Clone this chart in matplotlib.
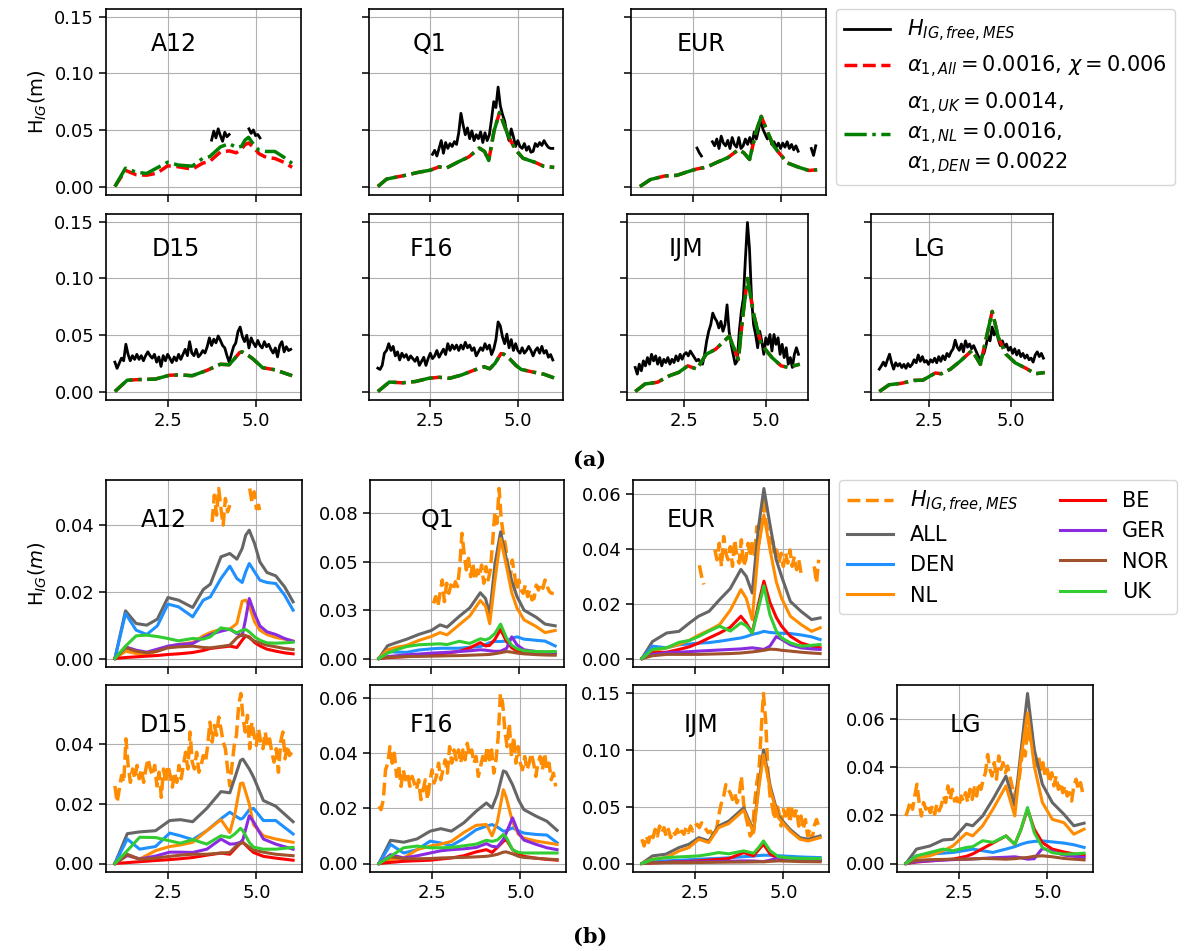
import numpy as np
import matplotlib.pyplot as plt
from matplotlib.ticker import MaxNLocator, FormatStrFormatter

nan = np.nan
W, H = 1186, 951

stations = ['A12', 'Q1', 'EUR', 'D15', 'F16', 'IJM', 'LG']

# measured H_IG, one value every 1/16 day from obs_start
obs_start = {'A12': 3.75, 'Q1': 2.5625, 'EUR': 2.625, 'D15': 1.0,
             'F16': 1.0, 'IJM': 1.0, 'LG': 1.0}
obs = {
    'A12': [0.041, 0.049, 0.043, 0.051, 0.045, 0.040, 0.048, 0.044, 0.046,
            nan, nan, nan, nan, nan, nan, nan, nan,
            0.051, 0.047, 0.050, 0.045, 0.046, 0.043],
    'Q1': [0.0285, 0.032, 0.027, 0.0337, 0.0406, 0.0294, 0.0389, 0.0337,
           0.038, 0.0354, 0.0397, 0.0372, 0.0475, 0.0647, 0.0544, 0.0458,
           0.0518, 0.0423, 0.0492, 0.0406, 0.0458, 0.0423, 0.0483, 0.0389,
           0.0475, 0.0406, 0.0458, 0.0595, 0.075, 0.0698, 0.0879, 0.0716,
           0.0638, 0.0578, 0.0475, 0.0406, 0.0509, 0.044, 0.0354, 0.0406,
           0.0354, 0.0337, 0.038, 0.032, 0.0354, 0.0303, 0.0311, 0.038,
           0.0354, 0.0389, 0.0363, 0.0406, 0.0372, 0.0346, 0.0337, 0.0337],
    'EUR': [0.034, 0.030, 0.027, nan, nan, nan, nan,
            0.0396, 0.036, 0.042, 0.0336, 0.0445, 0.0384, 0.036, 0.0408,
            0.0336, 0.0433, 0.0372, 0.0348, 0.0433, 0.0336, 0.036, 0.042,
            0.0372, 0.0433, 0.0372, 0.0481, 0.042, 0.0505, 0.059, 0.0505,
            0.0463, 0.042, 0.0445, 0.0372, 0.0396, 0.0348, 0.0384, 0.0336,
            0.0384, 0.0348, 0.0396, 0.0336, 0.0372, 0.0324, 0.036, 0.0312,
            nan, nan, nan, nan, nan, 0.0336, 0.0275, 0.036],
    'D15': [0.026, 0.0205, 0.025, 0.0295, 0.0272, 0.0418, 0.0329, 0.0272,
            0.0317, 0.0284, 0.0329, 0.0284, 0.0317, 0.0272, 0.0317, 0.0351,
            0.0317, 0.0295, 0.0329, 0.026, 0.0306, 0.0222, 0.0317, 0.0272,
            0.0329, 0.0295, 0.0256, 0.0306, 0.0272, 0.0329, 0.0284, 0.0329,
            0.0373, 0.0317, 0.0441, 0.034, 0.0317, 0.0373, 0.0306, 0.0329,
            0.0362, 0.034, 0.0396, 0.0474, 0.0407, 0.0463, 0.043, 0.0491,
            0.0452, 0.0407, 0.0385, 0.0317, 0.026, 0.0329, 0.0396, 0.043,
            0.053, 0.057, 0.0486, 0.0441, 0.0497, 0.0385, 0.0474, 0.043,
            0.0396, 0.0452, 0.0407, 0.0385, 0.0441, 0.0396, 0.0418, 0.0373,
            0.034, 0.0385, 0.0306, 0.0407, 0.0441, 0.0351, 0.0396, 0.0362,
            0.0373],
    'F16': [0.0207, 0.0195, 0.0231, 0.0339, 0.0363, 0.0423, 0.0363, 0.0399,
            0.0315, 0.0351, 0.0279, 0.0339, 0.0303, 0.0327, 0.0279, 0.0315,
            0.0291, 0.0267, 0.0303, 0.0231, 0.0267, 0.0303, 0.0231, 0.0291,
            0.0339, 0.0291, 0.0315, 0.0363, 0.0303, 0.0339, 0.0375, 0.0327,
            0.0423, 0.0363, 0.0411, 0.0375, 0.0411, 0.0363, 0.0411, 0.0375,
            0.0435, 0.0387, 0.0411, 0.0363, 0.0387, 0.0315, 0.0351, 0.0387,
            0.0363, 0.0423, 0.0375, 0.0411, 0.0327, 0.0375, 0.0459, 0.0615,
            0.058, 0.0483, 0.0423, 0.0507, 0.0387, 0.0459, 0.0363, 0.0423,
            0.0363, 0.0339, 0.0387, 0.0339, 0.0363, 0.0399, 0.0363, 0.0315,
            0.0363, 0.0387, 0.0339, 0.0399, 0.0339, 0.0363, 0.0303, 0.0327,
            0.0279],
    'IJM': [0.0213, 0.0154, 0.0242, 0.0184, 0.0271, 0.0227, 0.030, 0.0242,
            0.0329, 0.0271, 0.0315, 0.0242, 0.030, 0.0227, 0.0285, 0.0256,
            0.030, 0.0242, 0.0285, 0.0256, 0.0315, 0.0271, 0.0329, 0.0285,
            0.0329, 0.0344, 0.0315, 0.0358, 0.0329, 0.030, 0.0271, 0.0285,
            0.0256, 0.0242, 0.0329, 0.0446, 0.0533, 0.0591, 0.0693, 0.065,
            0.062, 0.0562, 0.062, 0.0533, 0.0591, 0.0766, 0.0533, 0.0417,
            0.0329, 0.0242, 0.0271, 0.0533, 0.0708, 0.0824, 0.1174, 0.1494,
            0.1261, 0.0824, 0.0591, 0.0504, 0.0387, 0.0533, 0.0446, 0.0329,
            0.0475, 0.0417, 0.0504, 0.0358, 0.0504, 0.0417, 0.0475, 0.0329,
            0.0417, 0.030, 0.0387, 0.0242, 0.030, 0.0213, 0.0329, 0.0387,
            0.0329],
    'LG': [0.0198, 0.0226, 0.026, 0.0226, 0.0281, 0.033, 0.0254, 0.0198,
           0.0254, 0.0226, 0.0247, 0.0212, 0.024, 0.0205, 0.0247, 0.0219,
           0.024, 0.0281, 0.0254, 0.0323, 0.0267, 0.0309, 0.026, 0.0274,
           0.024, 0.0281, 0.026, 0.0295, 0.0254, 0.0309, 0.0267, 0.0316,
           0.0281, 0.0337, 0.0309, 0.0351, 0.0378, 0.0454, 0.0392, 0.0364,
           0.042, 0.0351, 0.0448, 0.0392, 0.042, 0.0378, 0.0406, 0.0364,
           0.0323, 0.0281, 0.0309, 0.0337, 0.0406, 0.0489, 0.0448, 0.057,
           0.050, 0.0545, 0.0461, 0.0406, 0.0448, 0.0392, 0.042, 0.0364,
           0.0392, 0.0337, 0.0378, 0.0323, 0.0364, 0.0309, 0.0337, 0.0295,
           0.0323, 0.0281, 0.0295, 0.026, 0.0323, 0.0351, 0.0309, 0.0337,
           0.0295],
}

# model output times per station
model_x = {
    'A12': [1.0, 1.3, 1.6, 1.9, 2.2, 2.5, 2.8, 3.2, 3.5, 3.7, 4.0, 4.25, 4.45,
            4.6, 4.7, 4.8, 4.95, 5.1, 5.3, 5.55, 5.8, 6.04],
    'Q1': [1.0, 1.25, 1.5, 1.8, 2.15, 2.5, 2.75, 2.95, 3.3, 3.6, 3.9, 4.05,
           4.17, 4.32, 4.48, 4.65, 4.8, 4.95, 5.15, 5.5, 5.75, 6.04],
    'EUR': [1.0, 1.3, 1.7, 2.05, 2.35, 2.6, 2.9, 3.2, 3.5, 3.8, 3.95, 4.12,
            4.3, 4.45, 4.62, 4.8, 4.95, 5.2, 5.5, 5.8, 6.04],
    'D15': [1.0, 1.35, 1.7, 2.15, 2.55, 2.85, 3.2, 3.6, 4.0, 4.25, 4.4, 4.55,
            4.62, 4.8, 4.92, 5.2, 5.55, 6.04],
    'F16': [1.0, 1.33, 1.7, 2.08, 2.45, 2.75, 3.05, 3.4, 3.75, 4.04, 4.2,
            4.35, 4.52, 4.6, 4.78, 4.95, 5.1, 5.45, 5.75, 6.04],
    'IJM': [1.0, 1.3, 1.68, 2.05, 2.33, 2.61, 2.89, 3.17, 3.46, 3.88, 4.16,
            4.3, 4.44, 4.63, 4.86, 5.19, 5.47, 5.7, 6.04],
    'LG': [1.0, 1.3, 1.68, 2.05, 2.33, 2.71, 2.89, 3.17, 3.46, 3.83, 4.08,
           4.25, 4.44, 4.63, 4.86, 5.14, 5.47, 5.75, 6.04],
}

h_all = {
    'A12': [0, 0.0143, 0.0105, 0.0100, 0.0118, 0.0183, 0.0175, 0.0153, 0.0207,
            0.0223, 0.0305, 0.0315, 0.0298, 0.0330, 0.0370, 0.0385, 0.0345,
            0.0290, 0.0258, 0.0248, 0.0215, 0.0170],
    'Q1': [0, 0.0066, 0.0082, 0.010, 0.0125, 0.0145, 0.0174, 0.0162, 0.0218,
           0.0262, 0.034, 0.031, 0.023, 0.049, 0.0655, 0.051, 0.040, 0.032,
           0.025, 0.0213, 0.0178, 0.0169],
    'EUR': [0, 0.0062, 0.0093, 0.0099, 0.013, 0.0154, 0.0172, 0.0215, 0.0255,
            0.0325, 0.030, 0.0239, 0.0481, 0.062, 0.049, 0.036, 0.030, 0.0208,
            0.0172, 0.0142, 0.0148],
    'D15': [0, 0.0100, 0.0106, 0.0110, 0.0144, 0.0147, 0.0140, 0.0185, 0.0241,
            0.0237, 0.0290, 0.0345, 0.0350, 0.0317, 0.029, 0.0211, 0.0192,
            0.0140],
    'F16': [0, 0.0084, 0.0077, 0.0089, 0.0117, 0.0126, 0.0117, 0.0147, 0.0189,
            0.0219, 0.0201, 0.025, 0.0335, 0.033, 0.0285, 0.023, 0.0195,
            0.0171, 0.0153, 0.0120],
    'IJM': [0, 0.0067, 0.0082, 0.014, 0.0169, 0.0227, 0.0198, 0.0329, 0.0373,
            0.0489, 0.0285, 0.0679, 0.0999, 0.0679, 0.0417, 0.030, 0.0227,
            0.0213, 0.0242],
    'LG': [0, 0.006, 0.0073, 0.0098, 0.0101, 0.0164, 0.0157, 0.0198, 0.0267,
           0.0364, 0.0240, 0.0461, 0.0708, 0.0475, 0.033, 0.0254, 0.0205,
           0.0157, 0.0168],
}

h_den = {
    'A12': [0, 0.0135, 0.0085, 0.0072, 0.0098, 0.0163, 0.0155, 0.0125, 0.0175,
            0.0185, 0.024, 0.0277, 0.024, 0.0228, 0.026, 0.0285, 0.026, 0.0235,
            0.0228, 0.0225, 0.019, 0.0145],
    'Q1': [0, 0.0036, 0.0033, 0.0032, 0.0044, 0.0050, 0.0053, 0.0053, 0.0053,
           0.0058, 0.0062, 0.0072, 0.0082, 0.0088, 0.0088, 0.0090, 0.0105,
           0.0112, 0.0100, 0.0094, 0.0090, 0.0065],
    'EUR': [0, 0.0045, 0.0039, 0.0050, 0.0053, 0.0056, 0.0058, 0.0063, 0.0069,
            0.0075, 0.0080, 0.0088, 0.0093, 0.0099, 0.0095, 0.0093, 0.0092,
            0.0091, 0.0086, 0.0079, 0.0069],
    'D15': [0, 0.0082, 0.0048, 0.0057, 0.0102, 0.0093, 0.0080, 0.0110, 0.0150,
            0.0172, 0.0160, 0.0149, 0.0152, 0.0180, 0.0185, 0.0144, 0.0144,
            0.0099],
    'F16': [0, 0.0069, 0.0038, 0.0050, 0.0081, 0.0074, 0.0065, 0.0090, 0.0122,
            0.0135, 0.0141, 0.0132, 0.0117, 0.0118, 0.0129, 0.0118, 0.0110,
            0.0105, 0.0103, 0.0075],
    'IJM': [0, 0.0015, 0.0023, 0.0028, 0.0033, 0.0038, 0.0042, 0.0045, 0.0050,
            0.0060, 0.0065, 0.0070, 0.0073, 0.0072, 0.0068, 0.0063, 0.0058,
            0.0055, 0.0052],
    'LG': [0, 0.0032, 0.0039, 0.0043, 0.0046, 0.0055, 0.0060, 0.0053, 0.0046,
           0.0060, 0.0070, 0.0080, 0.0088, 0.0092, 0.0094, 0.0090, 0.0085,
           0.0078, 0.0067],
}

h_nl = {
    'A12': [0, 0.0022, 0.0015, 0.0012, 0.0022, 0.0035, 0.0042, 0.0048, 0.0068,
            0.0078, 0.0088, 0.0088, 0.0105, 0.0172, 0.0175, 0.0158, 0.011,
            0.0085, 0.0072, 0.0063, 0.0058, 0.0052],
    'Q1': [0, 0.0045, 0.0058, 0.0068, 0.0094, 0.0114, 0.0134, 0.0122, 0.0175,
           0.022, 0.030, 0.027, 0.018, 0.0406, 0.062, 0.0475, 0.034, 0.026,
           0.020, 0.0165, 0.0134, 0.0145],
    'EUR': [0, 0.0027, 0.0039, 0.0051, 0.0067, 0.0085, 0.0103, 0.0124, 0.0176,
            0.0251, 0.022, 0.0142, 0.0408, 0.0524, 0.0400, 0.028, 0.022,
            0.0154, 0.0124, 0.0099, 0.0112],
    'D15': [0, 0.0026, 0.0015, 0.0043, 0.0057, 0.0062, 0.0071, 0.0110, 0.0147,
            0.0104, 0.0170, 0.0268, 0.0270, 0.0200, 0.0130, 0.0093, 0.0082,
            0.0071],
    'F16': [0, 0.0014, 0.0020, 0.0050, 0.0063, 0.0070, 0.0080, 0.0112, 0.0138,
            0.0141, 0.0100, 0.0150, 0.0267, 0.0240, 0.0150, 0.0105, 0.0092,
            0.0081, 0.0075, 0.0069],
    'IJM': [0, 0.0038, 0.0052, 0.011, 0.014, 0.0213, 0.0184, 0.0315, 0.0352,
            0.0469, 0.0271, 0.065, 0.0955, 0.065, 0.0402, 0.0285, 0.0213,
            0.0198, 0.0227],
    'LG': [0, 0.0025, 0.0032, 0.0053, 0.0073, 0.0126, 0.0115, 0.0157, 0.0226,
           0.0323, 0.0198, 0.0434, 0.0628, 0.0406, 0.0254, 0.0184, 0.0170,
           0.0122, 0.0143],
}

h_be = {
    'A12': [0, 0.0003, 0.0005, 0.0007, 0.0009, 0.0012, 0.0014, 0.0018, 0.0024,
            0.003, 0.0034, 0.0037, 0.0033, 0.0055, 0.0068, 0.0065, 0.0048,
            0.0038, 0.0028, 0.0022, 0.0017, 0.0014],
    'Q1': [0, 0.0004, 0.0007, 0.0010, 0.0014, 0.0019, 0.0024, 0.0028, 0.0037,
           0.0055, 0.0082, 0.0065, 0.0068, 0.0100, 0.0150, 0.0088, 0.0055,
           0.0040, 0.0030, 0.0027, 0.0025, 0.0024],
    'EUR': [0, 0.0021, 0.0023, 0.0033, 0.0043, 0.0056, 0.0075, 0.0093, 0.0114,
            0.0154, 0.013, 0.0093, 0.0200, 0.0282, 0.0205, 0.0150, 0.0118,
            0.0081, 0.0057, 0.0045, 0.0039],
    'D15': [0, 0.0003, 0.0006, 0.0010, 0.0013, 0.0016, 0.0020, 0.0028, 0.0035,
            0.0031, 0.0050, 0.0068, 0.0071, 0.0050, 0.0037, 0.0024, 0.0018,
            0.0011],
    'F16': [0, 0.0004, 0.0008, 0.0010, 0.0012, 0.0016, 0.0020, 0.0028, 0.0042,
            0.0050, 0.0040, 0.0058, 0.0080, 0.0087, 0.0050, 0.0035, 0.0026,
            0.0019, 0.0015, 0.0012],
    'IJM': [0, 0.0005, 0.0010, 0.0015, 0.0019, 0.0023, 0.0030, 0.0036, 0.0044,
            0.0096, 0.0067, 0.0120, 0.0169, 0.0082, 0.0045, 0.0032, 0.0027,
            0.0025, 0.0023],
    'LG': [0, 0.0006, 0.0011, 0.0015, 0.0018, 0.0030, 0.0040, 0.0062, 0.0085,
           0.0115, 0.0080, 0.0140, 0.0226, 0.0143, 0.0087, 0.0060, 0.0048,
           0.0040, 0.0035],
}

h_ger = {
    'A12': [0, 0.0035, 0.0025, 0.0019, 0.0028, 0.0037, 0.0042, 0.0045, 0.0062,
            0.0072, 0.0082, 0.0088, 0.0075, 0.0068, 0.0120, 0.0180, 0.0135,
            0.0098, 0.0080, 0.0072, 0.0060, 0.0052],
    'Q1': [0, 0.0010, 0.0014, 0.0019, 0.0023, 0.0028, 0.0030, 0.0032, 0.0036,
           0.0040, 0.0045, 0.0043, 0.0040, 0.0037, 0.0038, 0.0052, 0.0112,
           0.0070, 0.0045, 0.0036, 0.0033, 0.0031],
    'EUR': [0, 0.0015, 0.0021, 0.0023, 0.0025, 0.0027, 0.0029, 0.0031, 0.0033,
            0.0035, 0.0037, 0.0039, 0.0036, 0.0033, 0.0045, 0.0080, 0.0070,
            0.0050, 0.0039, 0.0035, 0.0033],
    'D15': [0, 0.0028, 0.0015, 0.0025, 0.0038, 0.0038, 0.0037, 0.0048, 0.0082,
            0.0065, 0.0066, 0.0071, 0.0080, 0.0160, 0.0140, 0.0082, 0.0065,
            0.0048],
    'F16': [0, 0.0032, 0.0020, 0.0028, 0.0038, 0.0046, 0.0050, 0.0053, 0.0058,
            0.0072, 0.0062, 0.0060, 0.0087, 0.0110, 0.0165, 0.0110, 0.0085,
            0.0069, 0.0057, 0.0050],
    'IJM': [0, 0.0008, 0.0010, 0.0012, 0.0014, 0.0015, 0.0016, 0.0018, 0.0020,
            0.0023, 0.0022, 0.0019, 0.0017, 0.0030, 0.0052, 0.0038, 0.0030,
            0.0028, 0.0026],
    'LG': [0, 0.0008, 0.0011, 0.0014, 0.0016, 0.0018, 0.0019, 0.0021, 0.0024,
           0.0026, 0.0028, 0.0024, 0.0018, 0.0020, 0.0063, 0.0050, 0.0035,
           0.0030, 0.0025],
}

h_nor = {
    'A12': [0, 0.0032, 0.0022, 0.0017, 0.0022, 0.0032, 0.0035, 0.0037, 0.0033,
            0.0032, 0.0036, 0.004, 0.0062, 0.0072, 0.0068, 0.0062, 0.0052,
            0.0047, 0.0040, 0.0035, 0.003, 0.0027],
    'Q1': [0, 0.0006, 0.0008, 0.0010, 0.0011, 0.0012, 0.0013, 0.0014, 0.0015,
           0.0017, 0.0019, 0.0020, 0.0021, 0.0025, 0.0030, 0.0036, 0.0033,
           0.0028, 0.0024, 0.0020, 0.0018, 0.0017],
    'EUR': [0, 0.0010, 0.0015, 0.0015, 0.0015, 0.0015, 0.0016, 0.0017, 0.0018,
            0.0020, 0.0022, 0.0024, 0.0027, 0.0030, 0.0034, 0.0033, 0.0030,
            0.0027, 0.0023, 0.0020, 0.0018],
    'D15': [0, 0.0031, 0.0014, 0.0018, 0.0024, 0.0028, 0.0031, 0.0031, 0.0035,
            0.0037, 0.0055, 0.0068, 0.0070, 0.0055, 0.0045, 0.0038, 0.0031,
            0.0026],
    'F16': [0, 0.0024, 0.0018, 0.0017, 0.0018, 0.0020, 0.0021, 0.0022, 0.0024,
            0.0026, 0.0029, 0.0033, 0.0041, 0.0042, 0.0035, 0.0026, 0.0022,
            0.0019, 0.0016, 0.0014],
    'IJM': [0, 0.0005, 0.0007, 0.0008, 0.0008, 0.0009, 0.0010, 0.0011, 0.0012,
            0.0013, 0.0014, 0.0015, 0.0015, 0.0019, 0.0023, 0.0020, 0.0017,
            0.0016, 0.0015],
    'LG': [0, 0.0013, 0.0016, 0.0017, 0.0018, 0.0018, 0.0019, 0.0021, 0.0020,
           0.0018, 0.0020, 0.0023, 0.0025, 0.0030, 0.0032, 0.0028, 0.0021,
           0.0018, 0.0015],
}

h_uk = {
    'A12': [0, 0.0037, 0.0068, 0.0070, 0.0066, 0.0060, 0.0053, 0.0060, 0.0058,
            0.0065, 0.0092, 0.0087, 0.0077, 0.0085, 0.0087, 0.0080, 0.0065,
            0.0055, 0.0047, 0.0046, 0.0047, 0.0049],
    'Q1': [0, 0.0028, 0.0045, 0.0062, 0.0071, 0.0074, 0.0076, 0.0072, 0.0089,
           0.0078, 0.0102, 0.0096, 0.0105, 0.0130, 0.0178, 0.0105, 0.0068,
           0.0050, 0.0040, 0.0036, 0.0035, 0.0036],
    'EUR': [0, 0.0033, 0.0039, 0.0059, 0.0066, 0.0080, 0.0100, 0.0118, 0.0100,
            0.0130, 0.0120, 0.0093, 0.0185, 0.0265, 0.0160, 0.0100, 0.0075,
            0.0057, 0.0045, 0.0048, 0.0051],
    'D15': [0, 0.0043, 0.0088, 0.0087, 0.0076, 0.0068, 0.0080, 0.0065, 0.0093,
            0.0087, 0.0100, 0.0118, 0.0110, 0.0071, 0.0055, 0.0048, 0.0048,
            0.0054],
    'F16': [0, 0.0026, 0.0057, 0.0063, 0.0057, 0.0057, 0.0058, 0.0064, 0.0070,
            0.0084, 0.0080, 0.0085, 0.0105, 0.0095, 0.0050, 0.0040, 0.0038,
            0.0038, 0.0038, 0.0038],
    'IJM': [0, 0.0035, 0.0052, 0.0058, 0.0062, 0.0067, 0.0080, 0.0096, 0.0085,
            0.0111, 0.0090, 0.0140, 0.0198, 0.0111, 0.0060, 0.0048, 0.0045,
            0.0044, 0.0044],
    'LG': [0, 0.0032, 0.0046, 0.0060, 0.0053, 0.0067, 0.0070, 0.0095, 0.0088,
           0.0115, 0.0080, 0.0140, 0.0233, 0.0129, 0.0067, 0.0045, 0.0039,
           0.0040, 0.0043],
}

# run with one alpha per country (green in panel a); only A12 differs visibly
h_alpha = dict(h_all)
h_alpha['A12'] = [0, 0.0162, 0.0128, 0.0115, 0.0165, 0.0215, 0.019, 0.018,
                  0.025, 0.0265, 0.035, 0.038, 0.0345, 0.0355, 0.041, 0.0435,
                  0.037, 0.032, 0.031, 0.031, 0.026, 0.0205]

# panel boxes in pixels: left, top, right, bottom
box_a = {'A12': (106, 9, 301, 195), 'Q1': (369, 9, 563, 195),
         'EUR': (631, 9, 826, 195), 'D15': (106, 214, 301, 400),
         'F16': (369, 214, 563, 400), 'IJM': (627, 214, 808, 400),
         'LG': (871, 214, 1053, 400)}
box_b = {'A12': (106, 480, 302, 667), 'Q1': (370, 480, 564, 667),
         'EUR': (633, 480, 829, 667), 'D15': (106, 685, 302, 872),
         'F16': (370, 685, 566, 872), 'IJM': (633, 685, 829, 872),
         'LG': (897, 685, 1093, 872)}
name_xa = {'A12': 0.23, 'Q1': 0.226, 'EUR': 0.236, 'D15': 0.236,
           'F16': 0.21, 'IJM': 0.23, 'LG': 0.236}
name_xb = {'A12': 0.18, 'Q1': 0.26, 'EUR': 0.17, 'D15': 0.17,
           'F16': 0.2, 'IJM': 0.26, 'LG': 0.27}

plt.rcParams.update({'font.size': 13, 'xtick.labelsize': 13,
                     'ytick.labelsize': 13, 'axes.linewidth': 1.2,
                     'xtick.major.size': 5, 'ytick.major.size': 5,
                     'xtick.major.width': 1.1, 'ytick.major.width': 1.1})
fig = plt.figure(figsize=(W / 100, H / 100), dpi=100)


def add_ax(box, **kw):
    l, t, r, b = box
    return fig.add_axes([l / W, 1 - b / H, (r - l) / W, (b - t) / H], **kw)


def obs_time(s):
    return obs_start[s] + np.arange(len(obs[s])) / 16


# ---------------- (a) ----------------
ax0 = None
for k, s in enumerate(stations):
    ax = add_ax(box_a[s], sharey=ax0) if ax0 is not None else add_ax(box_a[s])
    if ax0 is None:
        ax0 = ax
    l1, = ax.plot(obs_time(s), obs[s], color='black', lw=2)
    l2, = ax.plot(model_x[s], h_all[s], color='red', ls='--', lw=2.5)
    l3, = ax.plot(model_x[s], h_alpha[s], color='green', ls='-.', lw=2.5)
    ax.grid(True)
    ax.set_xticks([2.5, 5.0])
    ax.yaxis.set_major_locator(MaxNLocator(nbins=4, steps=[1, 2, 2.5, 5, 10]))
    ax.yaxis.set_major_formatter(FormatStrFormatter('%.2f'))
    ax.text(name_xa[s], 0.775, s, transform=ax.transAxes, fontsize=17)
    if k < 3:
        ax.tick_params(labelbottom=False)
    if s not in ('A12', 'D15'):
        ax.tick_params(labelleft=False)
    if s == 'A12':
        ax.set_ylabel(r'H$_{IG}$(m)', fontsize=14)
        handles_a = [l1, l2, l3]

fig.legend(handles_a,
           [r'$H_{IG, free, MES}$',
            r'$\alpha_{1,All}=0.0016$, $\chi=0.006$',
            r'$\alpha_{1,UK}=0.0014$,' '\n' r'$\alpha_{1,NL}=0.0016$,' '\n'
            r'$\alpha_{1,DEN}=0.0022$'],
           loc='upper left', bbox_to_anchor=(836 / W, 1 - 9 / H),
           fontsize=15, handlelength=2.2, borderaxespad=0)
fig.text(590 / W, 1 - 460 / H, '(a)', ha='center', va='center',
         fontsize=15, fontweight='bold', family='DejaVu Serif')

# ---------------- (b) ----------------
comp = [('ALL', h_all, '#666666'), ('DEN', h_den, '#1e90ff'),
        ('NL', h_nl, '#ff8c00'), ('BE', h_be, '#ff0000'),
        ('GER', h_ger, '#8a2be2'), ('NOR', h_nor, '#a0522d'),
        ('UK', h_uk, '#32cd32')]
for k, s in enumerate(stations):
    ax = add_ax(box_b[s])
    lo, = ax.plot(obs_time(s), obs[s], color='#ff8c00', ls='--', lw=2.5,
                  label=r'$H_{IG, free, MES}$')
    for name, d, c in comp:
        ax.plot(model_x[s], d[s], color=c, lw=2.2, label=name)
    ax.grid(True)
    ax.set_xticks([2.5, 5.0])
    ax.yaxis.set_major_locator(MaxNLocator(nbins=4, steps=[1, 2, 2.5, 5, 10]))
    ax.yaxis.set_major_formatter(FormatStrFormatter('%.2f'))
    ax.text(name_xb[s], 0.75, s, transform=ax.transAxes, fontsize=17)
    if k < 3:
        ax.tick_params(labelbottom=False)
    if s == 'A12':
        ax.set_ylabel(r'H$_{IG}(m)$', fontsize=14)
        handles_b, labels_b = ax.get_legend_handles_labels()

fig.legend(handles_b, labels_b, ncol=2, loc='upper left',
           bbox_to_anchor=(839 / W, 1 - 480 / H), fontsize=15,
           handlelength=2.2, borderaxespad=0)
fig.text(590 / W, 1 - 937 / H, '(b)', ha='center', va='center',
         fontsize=15, fontweight='bold', family='DejaVu Serif')

fig.savefig('out.png', dpi=100)
